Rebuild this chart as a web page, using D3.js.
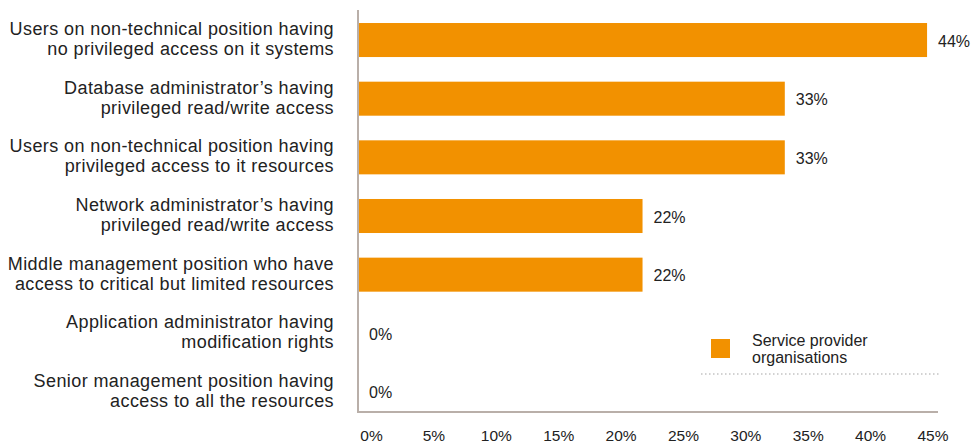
<!DOCTYPE html>
<html>
<head>
<meta charset="utf-8">
<script src="https://cdn.jsdelivr.net/npm/d3@7/dist/d3.min.js"></script>
<style>
  html, body { margin: 0; padding: 0; background: #fff; }
  svg { display: block; font-family: "Liberation Sans", Arial, Helvetica, sans-serif; }
</style>
</head>
<body>
<svg id="chart" width="973" height="444"></svg>
<script>
// Access categories (two text lines each) and share of service provider organisations
const categories = [
  ["Users on non-technical position having", "no privileged access on it systems"],
  ["Database administrator\u2019s having", "privileged read/write access"],
  ["Users on non-technical position having", "privileged access to it resources"],
  ["Network administrator\u2019s having", "privileged read/write access"],
  ["Middle management position who have", "access to critical but limited resources"],
  ["Application administrator having", "modification rights"],
  ["Senior management position having", "access to all the resources"]
];
const values = [44, 33, 33, 22, 22, 0, 0];
const ticks = [0, 5, 10, 15, 20, 25, 30, 35, 40, 45];
const seriesName = ["Service provider", "organisations"];

const orange = "#f29100";
const axisColor = "#b9afa9";
const textColor = "#222";

const svg = d3.select("#chart");

const plot = { left: 358, right: 940, top: 10, bottom: 412 };

const x = d3.scaleLinear().domain([0, 45]).range([plot.left, plot.right]);
// tick labels sit slightly inset from the plot edges
const xLabels = x.copy().range([371, 932.5]);

const y = d3.scaleBand()
  .domain(d3.range(categories.length))
  .range([10.7, 421.3])
  .paddingInner(0.42)
  .paddingOuter(0.21);

// bars
svg.append("g").selectAll("rect")
  .data(values)
  .join("rect")
  .attr("x", x(0))
  .attr("y", (d, i) => y(i))
  .attr("width", d => x(d) - x(0))
  .attr("height", y.bandwidth())
  .attr("fill", orange);

// value labels
svg.append("g").selectAll("text")
  .data(values)
  .join("text")
  .attr("x", d => x(d) + 11)
  .attr("y", (d, i) => y(i) + y.bandwidth() / 2 + 1)
  .attr("dominant-baseline", "central")
  .attr("font-size", 16)
  .attr("fill", textColor)
  .text(d => d + "%");

// category labels
const catG = svg.append("g");
categories.forEach((lines, i) => {
  const c = y(i) + y.bandwidth() / 2;
  const t = catG.append("text")
    .attr("text-anchor", "end")
    .attr("font-size", 18)
    .attr("letter-spacing", 0.4)
    .attr("fill", textColor);
  lines.forEach((ln, k) => {
    t.append("tspan")
      .attr("x", 334)
      .attr("y", c - 5 + k * 20)
      .text(ln);
  });
});

// axes lines
svg.append("line")
  .attr("x1", plot.left).attr("x2", plot.left)
  .attr("y1", plot.top).attr("y2", plot.bottom)
  .attr("stroke", axisColor).attr("stroke-width", 2);

const xAxis = d3.axisBottom(xLabels)
  .tickValues(ticks)
  .tickSize(0)
  .tickPadding(0)
  .tickFormat(d => d + "%");

const gx = svg.append("g")
  .attr("transform", `translate(0,${plot.bottom})`)
  .call(xAxis);
gx.select(".domain").remove();
gx.selectAll("text")
  .attr("font-size", 15.5)
  .attr("font-family", "Liberation Sans, Arial, sans-serif")
  .attr("fill", textColor)
  .attr("dy", null)
  .attr("y", 29);

svg.append("line")
  .attr("x1", plot.left - 1).attr("x2", 938)
  .attr("y1", plot.bottom).attr("y2", plot.bottom)
  .attr("stroke", axisColor).attr("stroke-width", 2);

// legend
const lg = svg.append("g");
lg.append("rect")
  .attr("x", 711).attr("y", 339)
  .attr("width", 19).attr("height", 19)
  .attr("fill", orange);
const lt = lg.append("text")
  .attr("font-size", 16)
  .attr("fill", textColor);
seriesName.forEach((ln, k) => {
  lt.append("tspan").attr("x", 752).attr("y", 346 + k * 17).text(ln);
});
lg.append("line")
  .attr("x1", 701).attr("x2", 940)
  .attr("y1", 374).attr("y2", 374)
  .attr("stroke", "#d2d2d2")
  .attr("stroke-width", 2)
  .attr("stroke-dasharray", "1.5 2.5");
</script>
</body>
</html>
